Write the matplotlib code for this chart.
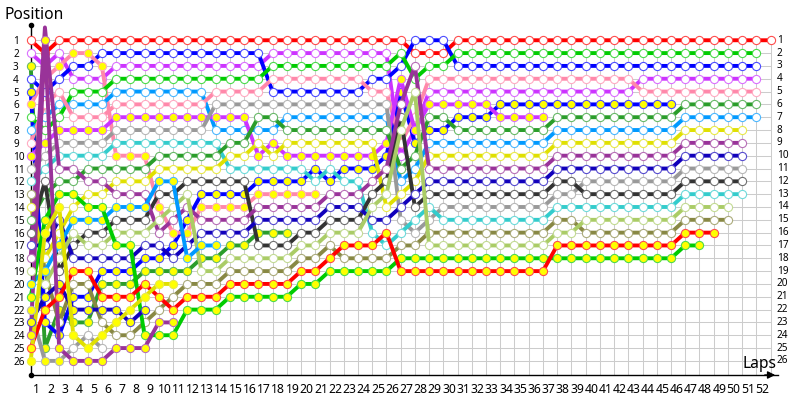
import matplotlib
matplotlib.use("Agg")
import matplotlib.pyplot as plt
from matplotlib.colors import to_rgb

plt.rcParams['font.family'] = ['Noto Sans', 'DejaVu Sans']

# position per lap, lap 0 is the grid. listed in grid order
magenta = [2,3,2,4,4,4,3,3,3,3,3,3,3,3,3,3,3,2,2,2,2,2,2,2,2,2,10,8,5,5,5,5,5,5,5,5,5,5,5,5,5,5,5,4,4,4,4,4,4,4,4,4]
red = [1,2,1,1,1,1,1,1,1,1,1,1,1,1,1,1,1,1,1,1,1,1,1,1,1,1,1,2,2,2,1,1,1,1,1,1,1,1,1,1,1,1,1,1,1,1,1,1,1,1,1,1,1]
darkgreen2 = [3,25,22,23,23,20,20,20,19,19,19,19,18,18,17,17,16,16,16]
blue = [4,5,4,3,3,2,2,2,2,2,2,2,2,2,2,2,2,5,5,5,5,5,5,5,4,4,3,1,1,1,3,3,3,3,3,3,3,3,3,3,3,3,3,3,3,3,3,3,3,3,3,3]
blue2 = [5,23,24,21,21,19,19,19,18,18,17,15,13,13,13,13,12,12,12,12,11,12,11,11,11,10,5,9,8,8,7,7,7,6,6,6,6,6,6,6,6,6,6,6,6,6]
pink1 = [6,4,3,2,2,3,10,10,10,14,16,16,14,14,14,14,13,13,13,13,13]
green = [7,8,7,5,5,5,4,4,4,4,4,4,4,4,4,4,4,3,3,3,3,3,3,3,3,3,2,4,3,3,2,2,2,2,2,2,2,2,2,2,2,2,2,2,2,2,2,2,2,2,2,2]
azure = [8,7,6,6,6,6,5,5,5,5,5,5,5,8,8,8,8,8,7,7,7,7,7,7,7,7,12,11,9,9,9,9,9,9,9,9,9,8,8,8,8,8,8,8,8,8,7,7,7,7,7,7]
pink = [9,6,5,7,7,7,6,6,6,6,6,6,6,5,5,5,5,4,4,4,4,4,4,4,5,5,9,7,4,4,4,4,4,4,4,4,4,4,4,4,4,4,4,5,5,5,5,5,5,5,5,5]
magenta2 = [10,9,8,8,8,8,7,7,7,7,7,7,7,7,7,7,10,9,10,10,10,10,10,10,10,9,4,8,6,6,6,6,6,7,7,7,7]
grey = [11,10,9,9,9,9,8,8,8,8,8,8,8,6,6,6,6,6,6,6,6,6,6,6,6,6,15,16,15,14,14,14,14,14,14,14,14,13,13,12,12,12,12,12,12,12,11,11,11,11,11]
cyan = [12,11,10,10,10,10,9,9,9,9,9,9,9,9,11,11,11,11,11,11,12,11,12,12,16,17,16,15,14,15,15,15,15,15,15,15,15,14,14,14,14,14,14,14,14,14,13,13,13,13,13]
olive = [13,19,23,20,20,23,24,24,23,22,21,20,20,20,19,19,19,19,19,18,18,17,18,18,18,18,17,17,16,16,16,16,16,16,16,16,16,15,15,16,16,16,16,16,16,16,15,15,15,15]
yellow = [14,18,16,14,13,13,12,12,12,11,11,11,11,11,10,10,9,10,9,9,9,9,9,9,9,14,13,12,10,10,10,10,10,10,10,10,10,9,9,9,9,9,9,9,9,9,8,8,8,8,8]
darkgreen = [15,13,12,12,11,11,11,11,11,10,10,10,10,10,9,9,7,7,8,8,8,8,8,8,8,8,11,10,7,7,8,8,8,8,8,8,8,7,7,7,7,7,7,7,7,7,6,6,6,6,6,6]
dark = [16,12,19,17,16,16,15,15,15,13,13,12,12,12,12,12,17,17,17,16,16,15,15,15,13,12,7,14,13,13,13,13,13,13,13,13,13,12,12,13,13,13,13,13,13,13,12,12,12,12,12]
darkblue = [17,17,15,18,18,18,18,18,17,17,18,17,16,16,16,16,15,15,15,15,15,14,14,14,15,15,14,13,12,12,12,12,12,12,12,12,12,11,11,11,11,11,11,11,11,11,10,10,10,10,10]
purple = [18,0,11,11,12,12,13,13,13,16,15,14,15,15,15,15,14,14,14,14,14,13,13,13,12,11,6,3,11,11,11,11,11,11,11,11,11,10,10,10,10,10,10,10,10,10,9,9,9,9,9]
lightgreen = [19,20,18,16,17,17,16,16,16,15,14,13,19,19,18,18,18,18,18,17,17,16,16,16,14,13,8,5,17,17,17,17,17,17,17,17,17,16,16,15,15,15,15,15,15,15,14,14,14,14]
azure2 = [20,19,17,15,15,15,14,14,14,12,12,18,17,17]
green2 = [21,15,13,13,14,14,17,17,24,24,24,22,22,22,21,21,21,21,21,20,20,19,19,19,19,19,18,18,18,18,18,18,18,18,18,18,18,18,18,18,18,18,18,18,18,18,17,17]
grey2 = [22,26,26,25,24,25]
darkblue2 = [23,21,20,22,22,22,22,23,22]
purple2 = [24,1,25,26,26,26,25,25,25,23,23]
red2 = [25,22,21,19,19,21,21,21,20,21,22,21,21,21,20,20,20,20,20,19,19,18,17,17,17,16,19,19,19,19,19,19,19,19,19,19,19,17,17,17,17,17,17,17,17,17,16,16,16]
yellow2 = [26,16,14,24,25,24,23,22,21,20,20]

laps = list(range(1, 53))
positions = list(range(1, 27))

# series, line colour, number of laps (from the grid) with the yellow marker
series = [
    (magenta, "#cc33ff", 0), (red, "#ff0000", 0), (darkgreen2, "#2a9d2a", 99), (blue, "#0000ff", 0),
    (blue2, "#0000ff", 99), (pink1, "#ff88aa", 99), (green, "#00cc00", 0), (azure, "#0099ff", 0),
    (pink, "#ff88aa", 0), (magenta2, "#cc33ff", 99), (grey, "#999999", 0), (cyan, "#33cccc", 0),
    (olive, "#888844", 0), (yellow, "#e0e000", 0), (darkgreen, "#2a9d2a", 0), (dark, "#333333", 0),
    (darkblue, "#1100bb", 0), (purple, "#993399", 0), (lightgreen, "#aacc66", 0), (azure2, "#0099ff", 99),
    (green2, "#00cc00", 99), (grey2, "#999999", 3), (darkblue2, "#1100bb", 99), (purple2, "#993399", 99),
    (red2, "#ff0000", 99), (yellow2, "#e0e000", 99),
]


def lighter(color, amount=0.3):
    r, g, b = to_rgb(color)
    return (r + (1 - r) * amount, g + (1 - g) * amount, b + (1 - b) * amount)


fig = plt.figure(figsize=(8, 4), dpi=100)
# axes box in pixels: 30.7..778 across, 25..375 down
ax = fig.add_axes([30.7 / 800, 1 - 375 / 400, (778 - 30.7) / 800, 350 / 400])
ax.set_xlim(0, 52.52)
ax.set_ylim(27.1, -0.19)

ax.hlines(positions, 0, 52, color="#cccccc", lw=0.75, zorder=1)
ax.vlines([0] + laps, 1, 27.1, color="#cccccc", lw=0.75, zorder=1)

z = 2
for values, color, n_yellow in series:
    x = list(range(len(values)))
    ax.plot(x, values, color=color, lw=2.8, solid_capstyle="butt", zorder=z, clip_on=False)
    for lap, pos in zip(x, values):
        if pos == 0:
            continue
        face = "#ffff00" if lap < n_yellow else "white"
        # grid markers stay visible above the fan of lines
        mz = 40 if lap == 0 else z
        ax.plot(lap, pos, "o", ms=5.9, mfc=face, mec=lighter(color), mew=0.8, zorder=mz, clip_on=False)
    z += 1

for s in ["top", "right"]:
    ax.spines[s].set_visible(False)
ax.spines["left"].set_linewidth(1.0)
ax.spines["bottom"].set_linewidth(1.0)

ax.set_xticks([v - 0.6 for v in laps])
ax.set_xticklabels([str(v) for v in laps], fontsize=8.8)
ax.tick_params(axis="x", length=0, pad=5.5)
ax.set_yticks(positions)
ax.set_yticklabels([str(v) for v in positions], fontsize=7.2, ha="left")
ax.tick_params(axis="y", length=0, pad=12.7)
for p in positions:
    ax.text(52.44, p, str(p), fontsize=7.2, ha="left", va="center", clip_on=False)

# axis ends
ax.plot(0, -0.19, "o", color="black", ms=3, clip_on=False, zorder=50)
ax.plot(0, 27.1, "o", color="black", ms=3, clip_on=False, zorder=50)
ax.annotate("", xy=(778 / 800, 1 - 375 / 400), xytext=(762 / 800, 1 - 375 / 400), xycoords="figure fraction",
            arrowprops=dict(arrowstyle="-|>", color="black", lw=1, mutation_scale=11))

fig.text(4 / 800, 1 - 15 / 400, "Position", fontsize=11.2, ha="left", va="center")
fig.text(742 / 800, 1 - 364 / 400, "Laps", fontsize=11.2, ha="left", va="center")

fig.savefig("out.png", dpi=100)
